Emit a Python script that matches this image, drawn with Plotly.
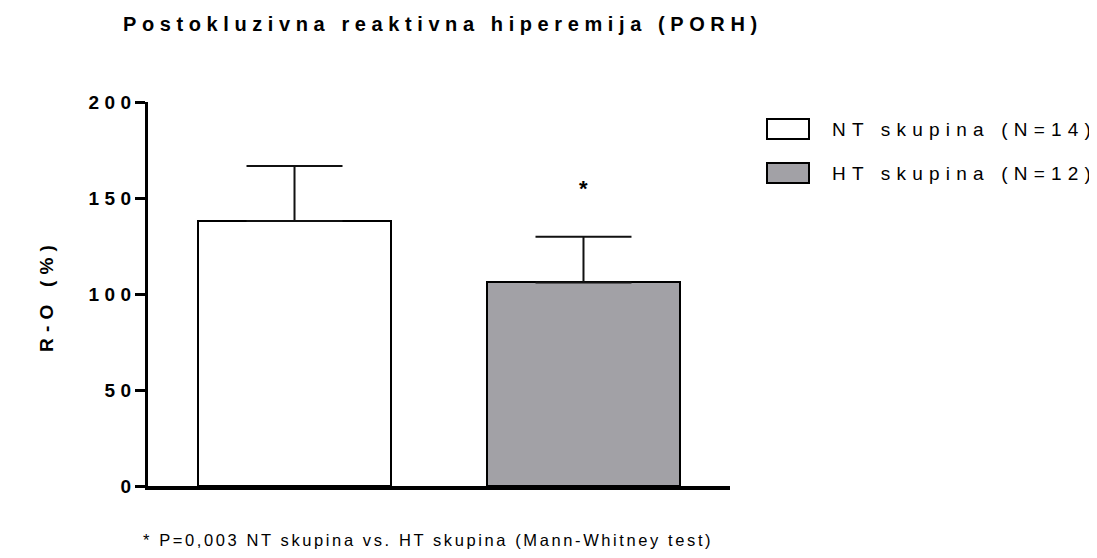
import plotly.graph_objects as go

# ---- data ----
categories = ["NT skupina", "HT skupina"]
legend_labels = ["NT skupina (N=14)", "HT skupina (N=12)"]
means = [138.0, 106.0]
errors = [28.7, 23.8]
bar_colors = ["#FFFFFF", "#A2A1A6"]
y_ticks = [0, 50, 100, 150, 200]
tick_labels = ["0", "50", "100", "150", "200"]
title_text = "Postokluzivna reaktivna hiperemija (PORH)"
y_title = "R-O (%)"
footnote = "* P=0,003 NT skupina vs. HT skupina (Mann-Whitney test)"
sig_mark = "*"
sig_y = 155

# ---- layout geometry (page pixels; the page body has an 8px margin) ----
PAGE_W, PAGE_H = 1097, 558
OFF = 8
W, H = PAGE_W - OFF, PAGE_H - OFF
PLOT_L, PLOT_R, PLOT_T, PLOT_B = 148, 730, 102, 486   # page coords of plot area
L = PLOT_L - OFF
T = PLOT_T - OFF
R = W - (PLOT_R - OFF)
B = H - (PLOT_B - OFF)
PW = PLOT_R - PLOT_L
PH = PLOT_B - PLOT_T
FONT = "Liberation Sans, Arial, sans-serif"


def spaced(s, ls):
    return f'<span style="letter-spacing:{ls}px">{s[:-1]}</span>{s[-1]}'


def px_x(p):
    return (p - PLOT_L) / PW


def px_y(p):
    return (PLOT_B - p) / PH


fig = go.Figure()
fig.add_trace(go.Bar(
    x=categories,
    y=means,
    width=0.668,
    marker=dict(color=bar_colors, line=dict(color="#000000", width=2)),
    error_y=dict(type="data", array=errors, arrayminus=[0, 0], symmetric=False,
                 color="#111111", thickness=2, width=48),
    showlegend=False,
    hoverinfo="skip",
))

# legend drawn manually (large Prism-style swatches)
sw_y = [129, 173]
shapes = []
annotations = []
for lbl, col, cy in zip(legend_labels, bar_colors, sw_y):
    shapes.append(dict(type="rect", xref="paper", yref="paper",
                       x0=px_x(767), x1=px_x(809), y0=px_y(cy + 10), y1=px_y(cy - 10),
                       fillcolor=col, line=dict(color="#000000", width=2)))
    annotations.append(dict(xref="paper", yref="paper", x=px_x(830), y=px_y(cy),
                            xanchor="left", yanchor="middle", showarrow=False,
                            text=spaced(lbl, 6.2),
                            font=dict(family=FONT, size=19, color="#000000")))

# significance mark
annotations.append(dict(x=categories[1], y=sig_y, xref="x", yref="y", showarrow=False,
                        text=sig_mark, xanchor="center", yanchor="middle",
                        font=dict(family=FONT, size=22, color="#000000", weight="bold")))
# y title
annotations.append(dict(xref="paper", yref="paper", x=px_x(46), y=px_y(299),
                        xanchor="center", yanchor="middle", showarrow=False, textangle=-90,
                        text=spaced(y_title, 6.2),
                        font=dict(family=FONT, size=19, color="#000000", weight="bold")))
# footnote
annotations.append(dict(xref="paper", yref="paper", x=px_x(141), y=px_y(540),
                        xanchor="left", yanchor="middle", showarrow=False,
                        text=spaced(footnote, 2.6),
                        font=dict(family=FONT, size=16.5, color="#000000")))

fig.update_layout(
    width=W, height=H,
    margin=dict(l=L, r=R, t=T, b=B, pad=0),
    paper_bgcolor="#FFFFFF", plot_bgcolor="#FFFFFF",
    title=dict(text=spaced(title_text, 5.6), xref="container", yref="container",
               x=(123 - OFF) / W, y=1 - (24 - OFF) / H, xanchor="left", yanchor="middle",
               font=dict(family=FONT, size=20, color="#000000", weight="bold")),
    xaxis=dict(range=[-0.507, 1.507], showline=True, linecolor="#000000", linewidth=3.5,
               showticklabels=False, ticks="", showgrid=False, zeroline=False),
    yaxis=dict(range=[0, 200], tickvals=y_ticks,
               ticktext=[spaced(t, 5.5) if len(t) > 1 else t for t in tick_labels],
               showline=True, linecolor="#000000", linewidth=3, ticks="outside",
               ticklen=10, tickwidth=3, tickcolor="#000000", showgrid=False, zeroline=False,
               tickfont=dict(family=FONT, size=19, color="#000000", weight="bold")),
    shapes=shapes,
    annotations=annotations,
    bargap=0,
)

fig.write_html("out.html")
